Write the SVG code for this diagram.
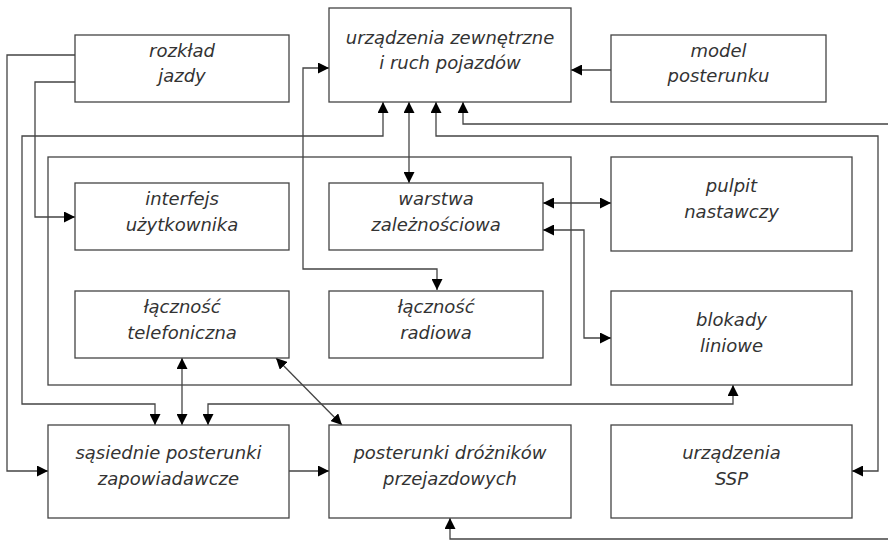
<svg xmlns="http://www.w3.org/2000/svg" width="888" height="541" viewBox="0 0 888 541">
<style>
.box{fill:#fff;stroke:#444;stroke-width:1.3}
.frame{fill:none;stroke:#444;stroke-width:1.3}
.t{font-family:"DejaVu Sans",sans-serif;font-style:italic;font-size:18px;fill:#333;text-anchor:middle}
.c path{fill:none;stroke:#444;stroke-width:1.3}
</style>
<defs>
<marker id="a" markerUnits="userSpaceOnUse" markerWidth="11" markerHeight="11" refX="11" refY="5.5" orient="auto-start-reverse" viewBox="0 0 11 11">
<path d="M0,0 L11,5.5 L0,11 z" fill="#000"/>
</marker>
</defs>
<rect width="888" height="541" fill="#fff"/>
<rect id="container" class="frame" x="48" y="157" width="523" height="228"/>
<g class="c" id="connectors">
<path d="M75,82 H35 V217 H75" marker-end="url(#a)"/>
<path d="M75,55 H7 V471 H48" marker-end="url(#a)"/>
<path d="M437,290 V269 H303 V68 H329" marker-start="url(#a)" marker-end="url(#a)"/>
<path d="M611,70 H571" marker-end="url(#a)"/>
<path d="M383,102 V136 H22 V404 H155 V425" marker-start="url(#a)" marker-end="url(#a)"/>
<path d="M409,102 V183" marker-start="url(#a)" marker-end="url(#a)"/>
<path d="M436,102 V136 H878 V471 H852" marker-start="url(#a)" marker-end="url(#a)"/>
<path d="M888,124 H463 V102" marker-end="url(#a)"/>
<path d="M543,203 H611" marker-start="url(#a)" marker-end="url(#a)"/>
<path d="M543,230 H584 V338 H611" marker-start="url(#a)" marker-end="url(#a)"/>
<path d="M182,358 V425" marker-start="url(#a)" marker-end="url(#a)"/>
<path d="M276,358 L342,425" marker-start="url(#a)" marker-end="url(#a)"/>
<path d="M733,385 V404 H208 V425" marker-start="url(#a)" marker-end="url(#a)"/>
<path d="M289,471 H329" marker-end="url(#a)"/>
<path d="M888,539 H450 V518" marker-end="url(#a)"/>
</g>
<g id="rozklad"><rect class="box" x="75" y="35" width="214" height="67"/><text class="t" x="182" y="57">rozkład</text><text class="t" x="182" y="82">jazdy</text></g>
<g id="urzadzenia"><rect class="box" x="329" y="8" width="242" height="94"/><text class="t" x="450" y="44">urządzenia zewnętrzne</text><text class="t" x="450" y="69">i ruch pojazdów</text></g>
<g id="model"><rect class="box" x="611" y="35" width="215" height="67"/><text class="t" x="718.5" y="57">model</text><text class="t" x="718.5" y="82">posterunku</text></g>
<g id="interfejs"><rect class="box" x="75" y="183" width="214" height="67"/><text class="t" x="182" y="205">interfejs</text><text class="t" x="182" y="231">użytkownika</text></g>
<g id="warstwa"><rect class="box" x="329" y="183" width="214" height="67"/><text class="t" x="436" y="205">warstwa</text><text class="t" x="436" y="231">zależnościowa</text></g>
<g id="pulpit"><rect class="box" x="611" y="157" width="241" height="94"/><text class="t" x="731.5" y="192">pulpit</text><text class="t" x="731.5" y="218">nastawczy</text></g>
<g id="telefoniczna"><rect class="box" x="75" y="291" width="214" height="67"/><text class="t" x="182" y="313">łączność</text><text class="t" x="182" y="339">telefoniczna</text></g>
<g id="radiowa"><rect class="box" x="329" y="291" width="214" height="67"/><text class="t" x="436" y="313">łączność</text><text class="t" x="436" y="339">radiowa</text></g>
<g id="blokady"><rect class="box" x="611" y="291" width="241" height="94"/><text class="t" x="731.5" y="326">blokady</text><text class="t" x="731.5" y="352">liniowe</text></g>
<g id="sasiednie"><rect class="box" x="48" y="425" width="241" height="93"/><text class="t" x="168.5" y="459">sąsiednie posterunki</text><text class="t" x="168.5" y="485">zapowiadawcze</text></g>
<g id="posterunki"><rect class="box" x="329" y="425" width="242" height="93"/><text class="t" x="450" y="459">posterunki dróżników</text><text class="t" x="450" y="485">przejazdowych</text></g>
<g id="ssp"><rect class="box" x="611" y="425" width="241" height="93"/><text class="t" x="731.5" y="459">urządzenia</text><text class="t" x="731.5" y="485">SSP</text></g>
</svg>
